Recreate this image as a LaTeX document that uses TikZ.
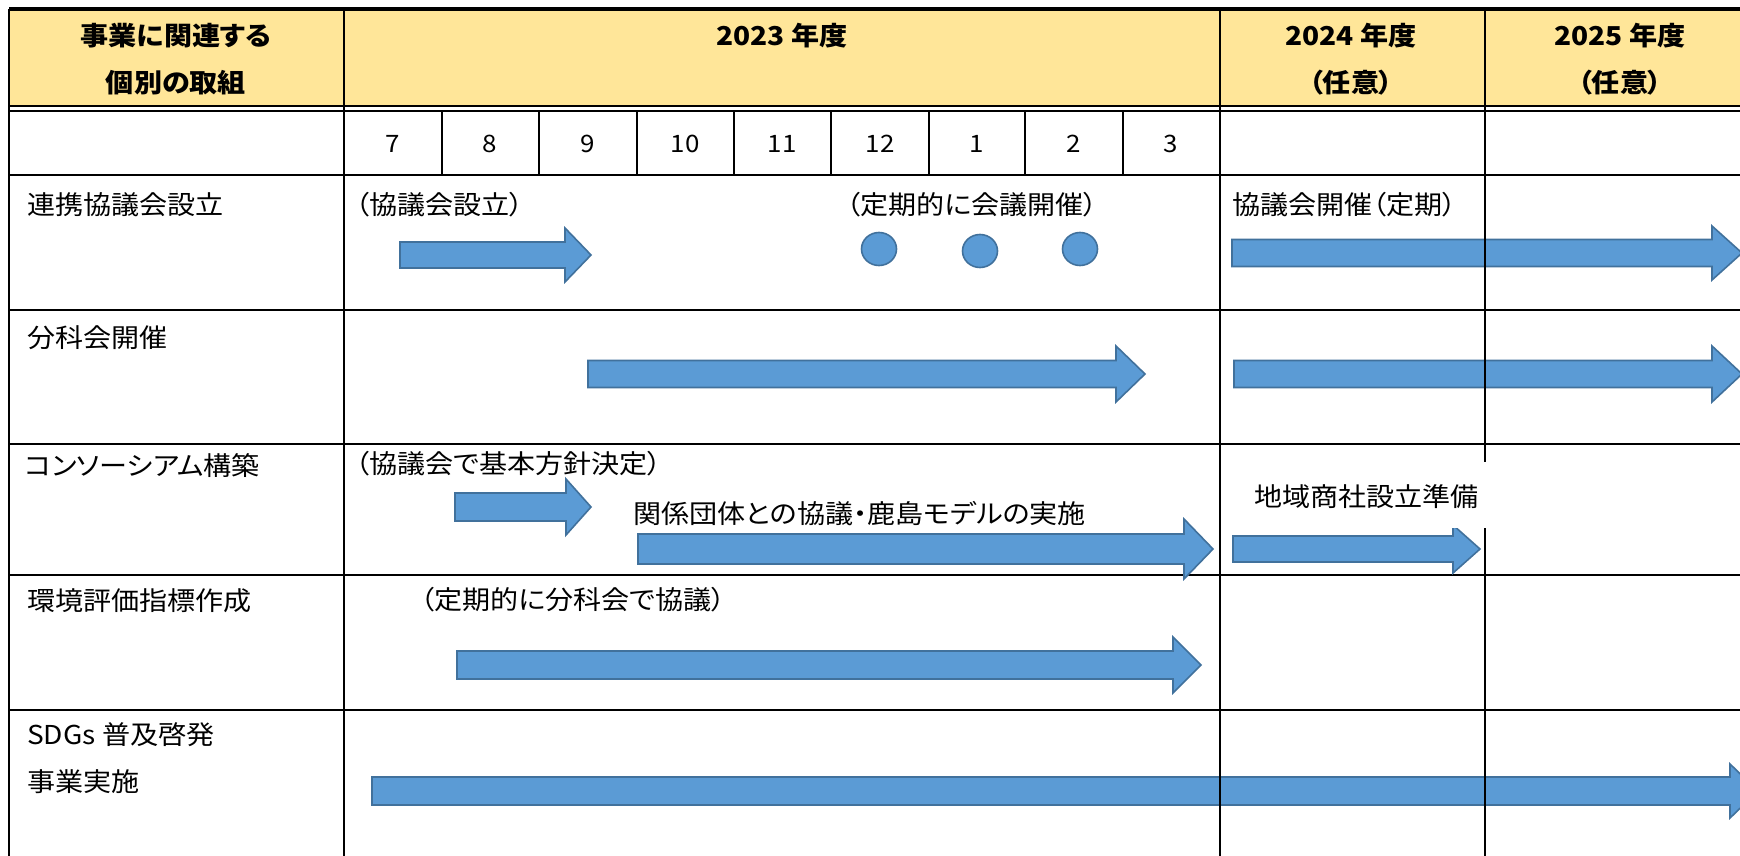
\documentclass[tikz,border=0pt]{standalone}
\usepackage{fontspec}
\setmainfont{Noto Sans CJK JP}[RawFeature=+palt, FakeStretch=1.08]
\usetikzlibrary{shapes.geometric}
\definecolor{hdr}{HTML}{FFE699}
\definecolor{arrfill}{HTML}{5B9BD5}
\definecolor{arredge}{HTML}{41719C}
\tikzset{
  gthick/.style={line width=2.6pt},
  gthin/.style={line width=1.4pt},
  txt/.style={anchor=west, inner sep=0pt, font=\fontsize{26}{30}\selectfont},
  hdrtxt/.style={anchor=center, inner sep=0pt, font=\bfseries\fontsize{26}{30}\selectfont},
  mon/.style={anchor=center, inner sep=0pt, font=\fontsize{24}{28}\selectfont},
  blk/.style={fill=arrfill, draw=arredge, line width=1.6pt, line join=miter},
  dot/.style={ellipse, fill=arrfill, draw=arredge, line width=1.6pt, minimum width=35pt, minimum height=33pt, inner sep=0pt}
}
% #1 start x, #2 head start x, #3 tip x, #4 centre y, #5 shaft half, #6 head half
\newcommand\blkarrow[6]{%
  \draw[blk] (#1,#4-#5) -- (#2,#4-#5) -- (#2,#4-#6) -- (#3,#4) -- (#2,#4+#6) -- (#2,#4+#5) -- (#1,#4+#5) -- cycle;}
\begin{document}
\begin{tikzpicture}[x=1pt, y=-1pt]
\useasboundingbox (0,0) rectangle (1740,856);
\clip (0,0) rectangle (1740,856);
\fill[white] (0,0) rectangle (1740,856);
% header fill
\fill[hdr] (9,9) rectangle (1740,106);
% horizontal lines
\draw[line width=3.4pt] (9,9) -- (1740,9);
\draw[gthick] (9,106) -- (1740,106);
\draw[line width=1.2pt] (9,111) -- (1740,111);
\foreach \y in {175,310,444,575,710} \draw[gthick] (9,\y) -- (1740,\y);
% vertical lines
\draw[gthick] (9,9) -- (9,856);
\draw[gthick] (344,9) -- (344,856);
\foreach \x in {442,539,637,734,831,929,1025,1123} \draw[gthin] (\x,111) -- (\x,175);
\draw[gthick] (1220,9) -- (1220,106);
\draw[gthick] (1485,9) -- (1485,106);
% header texts
\node[hdrtxt] (h1a) at (176,36) {事業に関連する};
\node[hdrtxt] (h1b) at (176,83) {個別の取組};
\node[hdrtxt] (h23) at (782,36) {2023 年度};
\node[hdrtxt] (h24) at (1351,36) {2024 年度};
\node[hdrtxt] (h24b) at (1351,83) {（任意）};
\node[hdrtxt] (h25) at (1620,36) {2025 年度};
\node[hdrtxt] (h25b) at (1620,83) {（任意）};
% months
\node[mon] (m7) at (393,144) {7};
\node[mon] (m8) at (490,144) {8};
\node[mon] (m9) at (588,144) {9};
\node[mon] (m10) at (685,144) {10};
\node[mon] (m11) at (782,144) {11};
\node[mon] (m12) at (880,144) {12};
\node[mon] (m1) at (977,144) {1};
\node[mon] (m2) at (1074,144) {2};
\node[mon] (m3) at (1171,144) {3};
% row labels
\node[txt] (r1) at (27,205) {連携協議会設立};
\node[txt] (r2) at (27,338) {分科会開催};
\node[txt] (r3) at (25,466) {コンソーシアム構築};
\node[txt] (r4) at (27,601) {環境評価指標作成};
\node[txt] (r5a) at (27,735) {SDGs 普及啓発};
\node[txt] (r5b) at (27,782) {事業実施};
% row 1
\node[txt] (t1a) at (355,205) {（協議会設立）};
\node[txt] (t1b) at (846,205) {（定期的に会議開催）};
\node[txt] (t1c) at (1232,205) {協議会開催（定期）};
\blkarrow{400}{565}{591}{255}{13}{27}
\node[dot] (d1) at (879,249) {};
\node[dot] (d2) at (980,251) {};
\node[dot] (d3) at (1080,249) {};
\blkarrow{1232}{1712}{1742}{253}{13.5}{27}
% row 2
\blkarrow{588}{1116}{1145}{374}{13.5}{28}
\blkarrow{1234}{1712}{1742}{374}{13.5}{28}
% row 3
\node[txt] (t3a) at (355,464) {（協議会で基本方針決定）};
\blkarrow{455}{566}{591}{507}{14}{28}
\node[txt] (t3b) at (633,514) {関係団体との協議・鹿島モデルの実施};
\blkarrow{638}{1184}{1213}{549}{15}{30}
\blkarrow{1233}{1453}{1480}{549}{13}{24}
% row 4
\node[txt] (t4a) at (420,600) {（定期的に分科会で協議）};
\blkarrow{457}{1173}{1201}{665}{14}{28}
% row 5
\blkarrow{372}{1730}{1758}{791}{14}{27}
% thin verticals drawn over arrows
\draw[gthin] (1220,106) -- (1220,856);
\draw[gthin] (1485,106) -- (1485,856);
% white label box over line
\fill[white] (1242,462) rectangle (1490,528);
\node[txt] (t3c) at (1254,497) {地域商社設立準備};
\end{tikzpicture}
\end{document}
